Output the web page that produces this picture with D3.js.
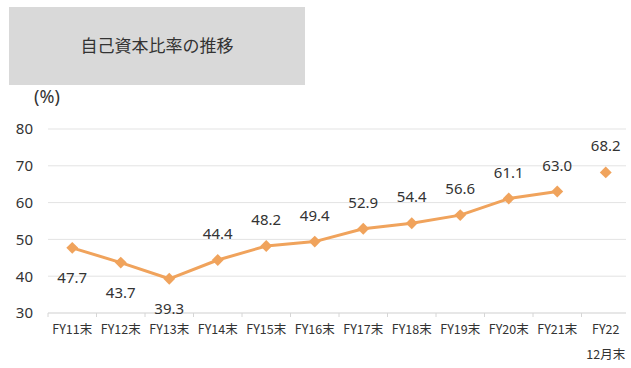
<!DOCTYPE html>
<html>
<head>
<meta charset="utf-8">
<script src="https://cdn.jsdelivr.net/npm/d3@7"></script>
<style>
  html, body { margin: 0; padding: 0; background: #fff; }
  svg { display: block; font-family: "Noto Sans CJK JP", "Noto Sans", sans-serif; }
</style>
</head>
<body>
<svg id="chart" width="631" height="368"></svg>
<script>
// Equity ratio by fiscal year end (%)
const categories = ["FY11末", "FY12末", "FY13末", "FY14末", "FY15末", "FY16末",
                    "FY17末", "FY18末", "FY19末", "FY20末", "FY21末", "FY22\n12月末"];
const ratios = [47.7, 43.7, 39.3, 44.4, 48.2, 49.4, 52.9, 54.4, 56.6, 61.1, 63.0, 68.2];
// Labels drawn beneath the point instead of above
const labelBelow = [true, true, true, false, false, false, false, false, false, false, false, false];
// The last point (FY22 December) stands apart from the connected line
const connected = [true, true, true, true, true, true, true, true, true, true, true, false];
const yTicks = [30, 40, 50, 60, 70, 80];
const title = "自己資本比率の推移";
const unit = "(%)";

const svg = d3.select("#chart");
const lineColor = "#f0a35c";
const textColor = "#333333";

// Title panel
svg.append("rect")
  .attr("x", 9).attr("y", 7).attr("width", 296).attr("height", 78)
  .attr("fill", "#d9d9d9");
svg.append("text")
  .attr("x", 157).attr("y", 47)
  .attr("text-anchor", "middle").attr("dominant-baseline", "middle")
  .attr("font-size", 17).attr("fill", textColor)
  .text(title);

const x = d3.scaleBand().domain(categories).range([48, 630]);
const y = d3.scaleLinear().domain([30, 80]).range([313, 129]);

// Horizontal gridlines
svg.append("g")
  .selectAll("line")
  .data(yTicks.slice(1))
  .join("line")
  .attr("x1", 48).attr("x2", 626)
  .attr("y1", d => y(d)).attr("y2", d => y(d))
  .attr("stroke", "#e3e3e3").attr("stroke-width", 1);

// Y axis labels
const yAxis = d3.axisLeft(y).tickValues(yTicks).tickSize(0).tickPadding(0);
const yg = svg.append("g").attr("transform", "translate(33,0)").call(yAxis);
yg.select(".domain").remove();
yg.selectAll("text")
  .attr("font-size", 15).attr("fill", textColor)
  .attr("font-family", "\"Noto Sans\", sans-serif");

svg.append("text")
  .attr("x", 47).attr("y", 98)
  .attr("text-anchor", "middle").attr("dominant-baseline", "middle")
  .attr("font-size", 18).attr("fill", textColor)
  .attr("font-family", "\"Noto Sans\", sans-serif")
  .text(unit);

// X axis baseline and tick marks at category boundaries
const xAxis = d3.axisBottom(x).tickSize(0).tickFormat(() => "");
const xg = svg.append("g").attr("transform", `translate(0,${y(30)})`).call(xAxis);
xg.select(".domain").attr("stroke", "#cfcfcf").attr("d", `M48,0H626`);
xg.selectAll(".tick").remove();
svg.append("g")
  .selectAll("line")
  .data(categories)
  .join("line")
  .attr("x1", d => x(d)).attr("x2", d => x(d))
  .attr("y1", y(30)).attr("y2", y(30) + 4)
  .attr("stroke", "#d6d6d6");

// Category labels (multi-line where needed)
const catText = svg.append("g")
  .selectAll("text")
  .data(categories)
  .join("text")
  .attr("x", d => x(d) + x.bandwidth() / 2)
  .attr("y", 331)
  .attr("text-anchor", "middle").attr("dominant-baseline", "middle")
  .attr("font-size", 12.5).attr("fill", textColor);
catText.each(function(d) {
  const parts = d.split("\n");
  const t = d3.select(this);
  parts.forEach((p, i) => {
    t.append("tspan")
      .attr("x", x(d) + x.bandwidth() / 2)
      .attr("dy", i === 0 ? 0 : 25)
      .text(p);
  });
});

const pts = categories.map((c, i) => ({ c, v: ratios[i], below: labelBelow[i], joined: connected[i] }));
const cx = d => x(d.c) + x.bandwidth() / 2;

// Connected line
const line = d3.line().x(cx).y(d => y(d.v));
svg.append("path")
  .datum(pts.filter(d => d.joined))
  .attr("d", line)
  .attr("fill", "none")
  .attr("stroke", lineColor).attr("stroke-width", 3)
  .attr("stroke-linejoin", "round");

// Diamond markers
const diamond = d3.symbol().type(d3.symbolDiamond2).size(90);
svg.append("g")
  .selectAll("path")
  .data(pts)
  .join("path")
  .attr("d", diamond)
  .attr("transform", d => `translate(${cx(d)},${y(d.v)})`)
  .attr("fill", lineColor);

// Value labels
svg.append("g")
  .selectAll("text")
  .data(pts)
  .join("text")
  .attr("x", cx)
  .attr("y", d => y(d.v) + (d.below ? 31 : -25))
  .attr("text-anchor", "middle").attr("dominant-baseline", "middle")
  .attr("font-size", 15).attr("fill", textColor)
  .attr("font-family", "\"Noto Sans\", sans-serif")
  .text(d => d.v.toFixed(1));
</script>
</body>
</html>
